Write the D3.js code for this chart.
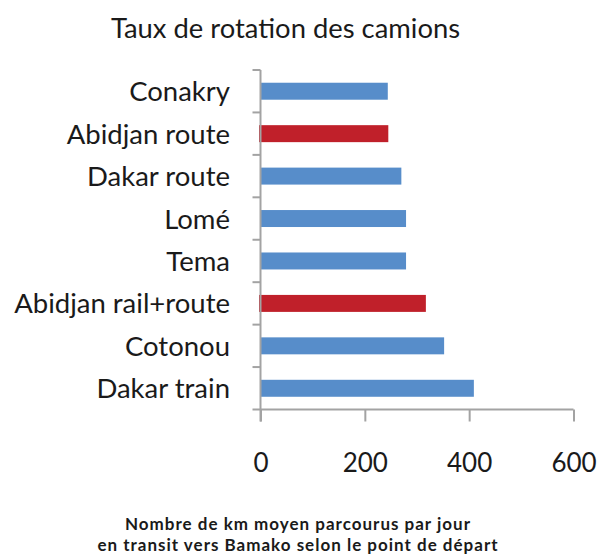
<!DOCTYPE html>
<html>
<head>
<meta charset="utf-8">
<script src="https://cdn.jsdelivr.net/npm/d3@7"></script>
<style>
  html, body { margin: 0; padding: 0; background: #fff; }
  svg { display: block; }
  text { font-family: Lato, "Open Sans", sans-serif; fill: #1a1a1a; }
</style>
</head>
<body>
<script>
// ---- data ----
const categories = ["Conakry", "Abidjan route", "Dakar route", "Lomé", "Tema", "Abidjan rail+route", "Cotonou", "Dakar train"];
const values = [244, 245, 270, 279, 279, 317, 352, 409];
const highlighted = ["Abidjan route", "Abidjan rail+route"];
const xTicks = [0, 200, 400, 600];
const title = "Taux de rotation des camions";
const footnote = ["Nombre de km moyen parcourus par jour", "en transit vers Bamako selon le point de départ"];

const W = 598, H = 556;
const svg = d3.select("body").append("svg").attr("width", W).attr("height", H);

const x = d3.scaleLinear().domain([0, 600]).range([260.5, 573.5]);
const y = d3.scaleBand().domain(categories).range([70, 409.5]).paddingInner(0.6).paddingOuter(0.3);

const axisColor = "#a3a3a3";

// bars
svg.append("g").selectAll("rect").data(categories).join("rect")
  .attr("x", d => x(0) + (highlighted.includes(d) ? -1.5 : 0.5))
  .attr("y", d => y(d))
  .attr("width", (d, i) => x(values[i]) - x(0) - (highlighted.includes(d) ? -1.5 : 0.5))
  .attr("height", y.bandwidth())
  .attr("fill", d => highlighted.includes(d) ? "#c0202a" : "#578dca");

// x axis
const xAxis = d3.axisBottom(x).tickValues(xTicks).tickSize(12).tickPadding(32).tickSizeOuter(0);
const gx = svg.append("g").attr("transform", `translate(0,${y.range()[1]})`).call(xAxis);
gx.select(".domain").attr("stroke", axisColor).attr("stroke-width", 2)
  .attr("d", `M${x(0) - 8},0H${x(600)}`);
gx.selectAll(".tick line").attr("stroke", axisColor).attr("stroke-width", 2);
gx.selectAll(".tick text").attr("font-size", 26).attr("fill", "#1a1a1a")
  .style("font-family", "Lato, sans-serif");

// y axis line + ticks at category boundaries
const gy = svg.append("g");
gy.append("line").attr("x1", x(0)).attr("x2", x(0))
  .attr("y1", y.range()[0]).attr("y2", y.range()[1] + 12)
  .attr("stroke", axisColor).attr("stroke-width", 2);
gy.selectAll("line.tk").data(d3.range(categories.length)).join("line").attr("class", "tk")
  .attr("x1", x(0) - 8).attr("x2", x(0))
  .attr("y1", i => y.range()[0] + i * y.step())
  .attr("y2", i => y.range()[0] + i * y.step())
  .attr("stroke", axisColor).attr("stroke-width", 2);

// category labels
svg.append("g").selectAll("text").data(categories).join("text")
  .attr("x", 230)
  .attr("y", d => y(d) + y.bandwidth() / 2 + 10)
  .attr("text-anchor", "end")
  .attr("font-size", 27.5)
  .text(d => d);

// title
svg.append("text").attr("x", 285.5).attr("y", 38).attr("text-anchor", "middle")
  .attr("font-size", 27.4).text(title);

// footnote
svg.append("g").selectAll("text").data(footnote).join("text")
  .attr("x", 298).attr("y", (d, i) => 530 + i * 21)
  .attr("text-anchor", "middle").attr("font-size", 17).attr("font-weight", "bold")
  .attr("letter-spacing", 1)
  .text(d => d);
</script>
</body>
</html>
